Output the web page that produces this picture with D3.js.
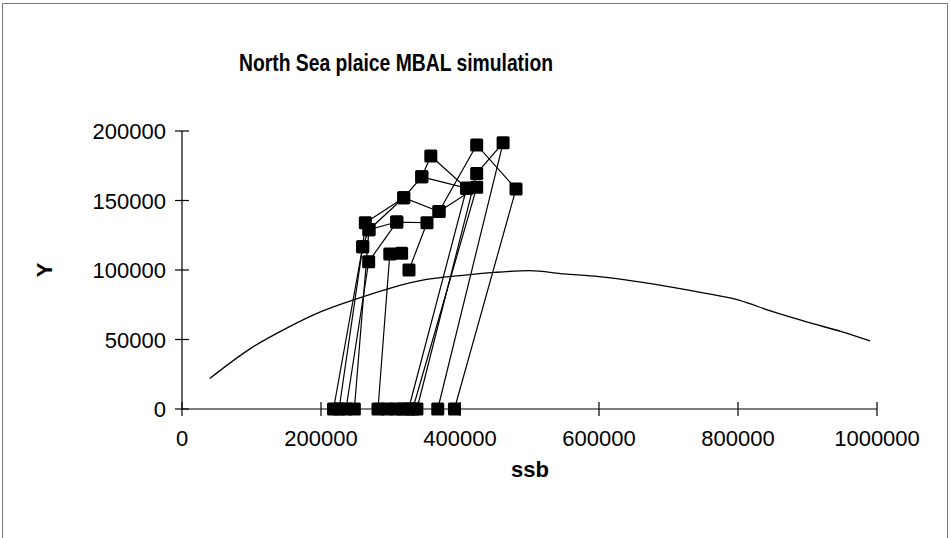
<!DOCTYPE html>
<html><head><meta charset="utf-8">
<script src="https://cdn.jsdelivr.net/npm/d3@7/dist/d3.min.js"></script>
<style>body{margin:0;background:#fff}svg{display:block}</style>
</head><body><svg id="c" width="950" height="538"></svg>
<script>
const title = "North Sea plaice MBAL simulation";
const xTicks = [0, 200000, 400000, 600000, 800000, 1000000];
const yTicks = [0, 50000, 100000, 150000, 200000];
// smooth reference curve (ssb, Y)
const curveSsb = [40000,100000,150000,200000,250000,300000,350000,400000,450000,500000,550000,600000,650000,700000,750000,800000,850000,900000,950000,990000];
const curveY   = [22000,44000,58000,70000,79000,87000,93000,96000,98300,99500,97200,95200,92000,88000,83500,78500,70000,62500,55500,49000];
// simulation trajectories (ssb, Y pairs)
const trajSsb = [
  [218000,260000,263800,319000,345000,358000,409600],
  [226000,260000,269000,319000,369800,424000,480600,392000],
  [236000,268600,309000,352500,326600],
  [248000,269000,309000],
  [282000,299000,316000],
  [326000,409600,345000],
  [332000,424000,369800],
  [338000,424000,462000,368000],
  [295000],[308000],[318000]
];
const trajY = [
  [0,116800,134000,152000,167000,182000,158800],
  [0,116800,129000,152000,142000,190000,158300,0],
  [0,106000,134500,134000,100000],
  [0,129000,134500],
  [0,111500,112000],
  [0,158800,167000],
  [0,159500,142000],
  [0,169500,191500,0],
  [0],[0],[0]
];

const svg = d3.select("#c");
const font = "'Liberation Sans', Arial, sans-serif";
// outer frame
svg.append("path").attr("d","M2.5,538 V3.5 H947.5 V538").attr("fill","none").attr("stroke","#777").attr("stroke-width",1);

const x = d3.scaleLinear().domain([0,1000000]).range([182,877]);
const y = d3.scaleLinear().domain([0,200000]).range([409,131]);

svg.append("text").attr("x",396).attr("y",71).attr("text-anchor","middle")
  .attr("font-family",font).attr("font-weight","bold").attr("font-size",23)
  .attr("textLength",314).attr("lengthAdjust","spacingAndGlyphs").text(title);

// axes
const ax = svg.append("g").attr("stroke","#000").attr("stroke-width",1.2);
ax.append("line").attr("x1",x(0)).attr("x2",x(1000000)).attr("y1",y(0)).attr("y2",y(0));
ax.append("line").attr("x1",x(0)).attr("x2",x(0)).attr("y1",y(0)).attr("y2",y(200000));
xTicks.forEach(t=>{ ax.append("line").attr("x1",x(t)).attr("x2",x(t)).attr("y1",y(0)-7).attr("y2",y(0)+7); });
yTicks.forEach(t=>{ ax.append("line").attr("x1",x(0)-7).attr("x2",x(0)+7).attr("y1",y(t)).attr("y2",y(t)); });

svg.append("g").selectAll("text").data(xTicks).join("text")
  .attr("x",d=>x(d)).attr("y",446).attr("text-anchor","middle")
  .attr("font-family",font).attr("font-size",22).text(d=>String(d));
svg.append("g").selectAll("text").data(yTicks).join("text")
  .attr("x",166).attr("y",d=>y(d)+8).attr("text-anchor","end")
  .attr("font-family",font).attr("font-size",22).text(d=>String(d));

svg.append("text").attr("x",530).attr("y",477).attr("text-anchor","middle")
  .attr("font-family",font).attr("font-weight","bold").attr("font-size",22).text("ssb");
svg.append("text").attr("transform","translate(52,270) rotate(-90)").attr("text-anchor","middle")
  .attr("font-family",font).attr("font-weight","bold").attr("font-size",22).text("Y");

// curve
const curvePts = curveSsb.map((s,i)=>[s,curveY[i]]);
svg.append("path").datum(curvePts)
  .attr("d", d3.line().x(d=>x(d[0])).y(d=>y(d[1])).curve(d3.curveMonotoneX))
  .attr("fill","none").attr("stroke","#000").attr("stroke-width",1.3);

// trajectories
const trajs = trajSsb.map((arr,k)=>arr.map((s,i)=>[s,trajY[k][i]]));
const g = svg.append("g");
trajs.forEach(pts=>{
  if (pts.length>1) g.append("path").datum(pts)
    .attr("d", d3.line().x(d=>x(d[0])).y(d=>y(d[1])))
    .attr("fill","none").attr("stroke","#000").attr("stroke-width",1.2);
});
trajs.forEach(pts=>{
  g.selectAll(null).data(pts).join("rect")
    .attr("x",d=>x(d[0])-6.5).attr("y",d=>y(d[1])-6.5).attr("width",13).attr("height",13)
    .attr("rx",1.5).attr("fill","#000");
});
</script></body></html>
